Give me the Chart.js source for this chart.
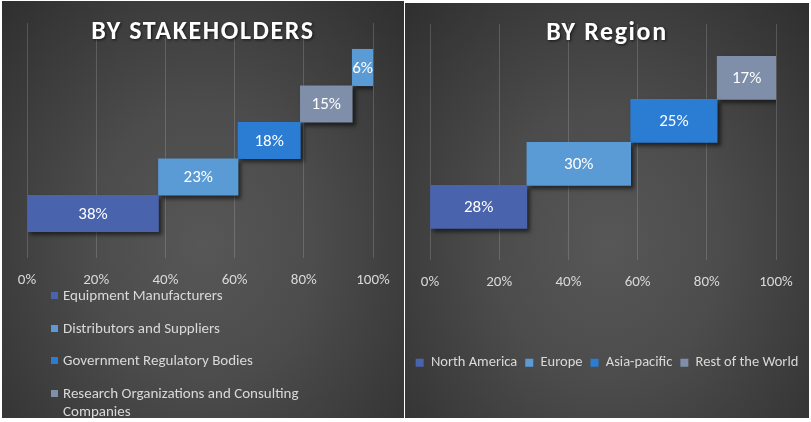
<!DOCTYPE html>
<html><head><meta charset="utf-8">
<script src="https://cdn.jsdelivr.net/npm/chart.js@4.4.1/dist/chart.umd.min.js"></script>
<style>
html,body{margin:0;padding:0;background:#fff;width:811px;height:422px;overflow:hidden;font-family:Carlito,Lato,sans-serif;}
.panel{position:absolute;overflow:hidden;background:radial-gradient(ellipse at 50% 58%, #575757 0%, #4c4c4c 40%, #2f2f2f 100%);}
#p1{left:2px;top:1px;width:402px;height:417px;}
#p2{left:405px;top:3px;width:404px;height:415px;}
canvas{position:absolute;left:0;top:0;}
#leg1{position:absolute;left:49px;top:285px;width:262px;color:#d9d9d9;font-size:15px;line-height:18px;}
.li{display:flex;align-items:flex-start;margin-bottom:14.5px;}
.sw{width:7px;height:7px;margin-top:6px;margin-right:5px;flex:none;}
</style></head><body>
<div class="panel" id="p1"><canvas id="c1" width="402" height="417"></canvas><div id="leg1"></div></div>
<div class="panel" id="p2"><canvas id="c2" width="404" height="415"></canvas></div>
<script>
// ---- data ----
const stakeholderLabels = ['Equipment Manufacturers','Distributors and Suppliers','Government Regulatory Bodies','Research Organizations and Consulting Companies','Others'];
const stakeholderValues = [38, 23, 18, 15, 6];
const stakeholderColors = ['#4963ad','#5b9bd5','#2b7cd3','#7f8fa9','#5b9bd5'];
const regionLabels = ['North America','Europe','Asia-pacific','Rest of the World'];
const regionValues = [28, 30, 25, 17];
const regionColors = ['#4963ad','#5b9bd5','#2b7cd3','#7f8fa9'];
const tickValues = [0, 20, 40, 60, 80, 100];
const chartTitles = ['BY STAKEHOLDERS', 'BY Region'];

const FONT = 'Carlito, Lato, sans-serif';

function buildDatasets(labels, values, colors){
  let start = 0;
  return labels.map((l, i) => {
    const ds = {label: l, data: [{x: [start, start + values[i]], y: i, v: values[i]}],
      backgroundColor: colors[i], borderWidth: 0, grouped: false,
      barPercentage: 1, categoryPercentage: 1};
    start += values[i];
    return ds;
  });
}

const shadowPlugin = {
  id: 'barShadow',
  beforeDatasetsDraw(chart){ const c = chart.ctx; c.save(); c.shadowColor = 'rgba(0,0,0,0.55)'; c.shadowBlur = 4; c.shadowOffsetX = 3; c.shadowOffsetY = 3; },
  afterDatasetsDraw(chart){ chart.ctx.restore(); }
};
const labelPlugin = {
  id: 'barLabels',
  afterDatasetsDraw(chart){
    const ctx = chart.ctx; ctx.save();
    ctx.font = '17px ' + FONT; ctx.fillStyle = '#ffffff'; ctx.textAlign = 'center'; ctx.textBaseline = 'middle';
    chart.data.datasets.forEach((ds, i) => {
      const meta = chart.getDatasetMeta(i);
      meta.data.forEach((el, j) => {
        const raw = ds.data[j]; if (!raw) return;
        const p = el.getProps(['x','y','base'], true);
        ctx.fillText(raw.v + '%', (p.x + p.base) / 2, p.y + 1);
      });
    });
    ctx.restore();
  }
};
const titlePlugin = {
  id: 'overTitle',
  afterDraw(chart, args, opts){
    const ctx = chart.ctx; ctx.save();
    ctx.font = 'bold 26px ' + FONT; ctx.fillStyle = '#ffffff'; ctx.textAlign = 'center'; ctx.textBaseline = 'middle';
    ctx.letterSpacing = opts.spacing || '0px';
    ctx.shadowColor = 'rgba(0,0,0,0.7)'; ctx.shadowBlur = 3; ctx.shadowOffsetX = 1; ctx.shadowOffsetY = 1;
    ctx.fillText(opts.text, chart.width / 2 + (opts.dx || 0), opts.y);
    ctx.restore();
  }
};

function makeOptions(cfg){
  return {
    responsive: false, animation: false, indexAxis: 'y',
    layout: {padding: {left: 0, right: 0, top: cfg.top, bottom: cfg.bottom}},
    scales: {
      x: {type: 'linear', min: 0, max: 100, position: 'bottom',
        afterBuildTicks(s){ s.ticks = tickValues.map(v => ({value: v})); },
        afterFit(s){ s.height = cfg.xh; },
        ticks: {color: '#d9d9d9', font: {size: 15, family: FONT}, padding: cfg.tp, callback: v => v + '%'},
        grid: {color: 'rgba(255,255,255,0.16)', lineWidth: 1, drawTicks: false},
        border: {display: false}},
      y: {type: 'linear', position: 'left', min: cfg.ymin, max: cfg.ymax, offset: false,
        afterFit(s){ s.width = cfg.left; },
        ticks: {display: false, stepSize: 1, includeBounds: false},
        grid: {display: false}, border: {display: false}},
      y2: {type: 'linear', position: 'right', afterFit(s){ s.width = cfg.right; },
        ticks: {display: false}, grid: {display: false}, border: {display: false}}
    },
    plugins: {
      legend: cfg.legend,
      tooltip: {enabled: false},
      overTitle: {text: cfg.title, y: cfg.titleY, spacing: cfg.spacing}
    }
  };
}

new Chart(document.getElementById('c1'), {
  type: 'bar',
  data: {datasets: buildDatasets(stakeholderLabels, stakeholderValues, stakeholderColors)},
  options: makeOptions({top: 22, bottom: 0, xh: 160, left: 25, right: 31, ymin: -1.22, ymax: 5.22, tp: 13,
    legend: {display: false}, title: chartTitles[0], titleY: 31, spacing: '1.6px'}),
  plugins: [shadowPlugin, labelPlugin, titlePlugin]
});

new Chart(document.getElementById('c2'), {
  type: 'bar',
  data: {datasets: buildDatasets(regionLabels, regionValues, regionColors)},
  options: makeOptions({top: 21, bottom: 38, xh: 88, left: 25, right: 33, ymin: -1.22, ymax: 4.25, tp: 14,
    legend: {display: true, position: 'bottom', labels: {boxWidth: 8, boxHeight: 8, padding: 8, color: '#d9d9d9', font: {size: 14.5, family: FONT}}},
    title: chartTitles[1], titleY: 30, spacing: '1.6px'}),
  plugins: [shadowPlugin, labelPlugin, titlePlugin]
});

// HTML legend for the stakeholder panel (vertical list, wraps long names)
const leg = document.getElementById('leg1');
stakeholderLabels.forEach((l, i) => {
  const row = document.createElement('div'); row.className = 'li';
  const sw = document.createElement('span'); sw.className = 'sw'; sw.style.background = stakeholderColors[i];
  const tx = document.createElement('span'); tx.textContent = l;
  row.appendChild(sw); row.appendChild(tx); leg.appendChild(row);
});
</script>
</body></html>
